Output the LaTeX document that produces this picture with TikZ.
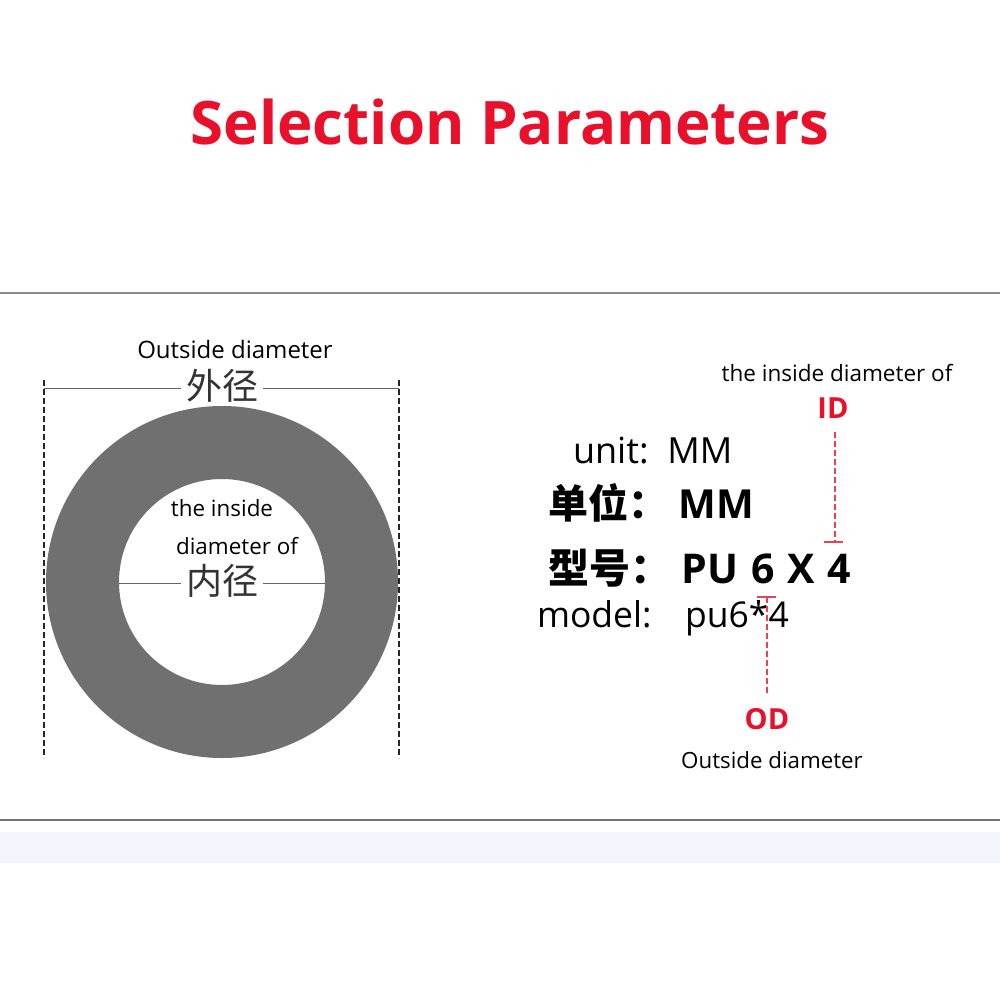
\documentclass[tikz,border=0pt]{standalone}
\usepackage{fontspec}
\setmainfont{Open Sans}
\newfontfamily\cjk{Noto Sans CJK SC}
\definecolor{titred}{HTML}{E8102A}
\definecolor{ringgray}{HTML}{707070}
\definecolor{linegray}{HTML}{8C8C8C}
\definecolor{bandblue}{HTML}{F3F5FC}
\begin{document}
\begin{tikzpicture}[x=1pt,y=-1pt,
  txt/.style={inner sep=0pt,outer sep=0pt},
  blackdash/.style={draw=black!85,line width=1.3pt,dash pattern=on 6pt off 3pt},
  reddash/.style={draw=titred!80,line width=1.2pt,dash pattern=on 6pt off 3pt},
  dimline/.style={draw=black!60,line width=1pt}]
\useasboundingbox (0,0) rectangle (1000,1000);
\fill[white] (0,0) rectangle (1000,1000);
% title
\node[txt,anchor=base,text=titred,font=\bfseries\fontsize{60}{60}\selectfont] (title) at (510,145) {Selection Parameters};
% separators
\draw[linegray,line width=1.5pt] (0,293) -- (1000,293);
\fill[bandblue] (0,832) rectangle (1000,863);
\draw[black!55,line width=2pt] (0,820) -- (1000,820);
% ring
\fill[ringgray,even odd rule] (222,582) circle (176) (222,582) circle (103);
% dashed verticals
\coordinate (lt) at (44,380); \coordinate (lb) at (44,758);
\coordinate (rt) at (399,380); \coordinate (rb) at (399,758);
\draw[blackdash] (lt) -- (lb);
\draw[blackdash] (rt) -- (rb);
% outside diameter label
\node[txt,anchor=base,font=\fontsize{24}{24}\selectfont] (od1) at (235,358) {Outside diameter};
\node[txt,font=\cjk\fontsize{36}{36}\selectfont,text=black!80] (wj) at (222,386) {外径};
\coordinate (dl) at (44,388); \coordinate (dr) at (399,388);
\draw[dimline] (dl) -- ([xshift=-5pt]wj.west |- dl);
\draw[dimline] ([xshift=5pt]wj.east |- dr) -- (dr);
% inside diameter label
\node[txt,anchor=base,font=\fontsize{22.4}{22}\selectfont] (ti) at (222,516) {the inside};
\node[txt,anchor=base,font=\fontsize{22.4}{22}\selectfont] (dof) at (237,554) {diameter of};
\node[txt,font=\cjk\fontsize{36}{36}\selectfont,text=black!80] (nj) at (222,581) {内径};
\coordinate (il) at (119,583); \coordinate (ir) at (325,583);
\draw[dimline] (il) -- ([xshift=-5pt]nj.west |- il);
\draw[dimline] ([xshift=5pt]nj.east |- ir) -- (ir);
% right block
\node[txt,anchor=base,font=\fontsize{22.5}{22}\selectfont] (tid) at (837,381) {the inside diameter of};
\node[txt,anchor=base,text=titred,font=\bfseries\fontsize{29}{29}\selectfont] (ID) at (833,418) {ID};
\node[txt,anchor=base west,font=\fontsize{36}{36}\selectfont] (unit) at (573,463) {unit:\ \ MM};
\node[txt,anchor=base west,font=\bfseries\fontsize{40}{40}\selectfont] (dw) at (548,518) {{\cjk\bfseries 单位：}\ MM};
\node[txt,anchor=base west,font=\bfseries\fontsize{41}{41}\selectfont] (xh) at (548,583) {{\cjk\bfseries 型号：}\ PU\hspace{13pt}6\hspace{13pt}X\hspace{12pt}4};
\node[txt,anchor=base west,font=\fontsize{35.5}{35}\selectfont] (model) at (537,627) {model:\ \ \ \,pu6*4};
\node[txt,anchor=base,text=titred,font=\bfseries\fontsize{29}{29}\selectfont] (OD) at (767,729) {OD};
\node[txt,anchor=base,font=\fontsize{22.3}{22}\selectfont] (od2) at (772,768) {Outside diameter};
% red leaders
\coordinate (idtop) at (835,432); \coordinate (idbot) at (835,542);
\draw[reddash] (idtop) -- (idbot);
\draw[titred!80,line width=1.2pt] (824,542) -- (843,542);
\coordinate (odtop) at (767,597); \coordinate (odbot) at (767,695);
\draw[reddash] (odtop) -- (odbot);
\draw[titred!80,line width=1.2pt] (757,597) -- (776,597);
\end{tikzpicture}
\end{document}
